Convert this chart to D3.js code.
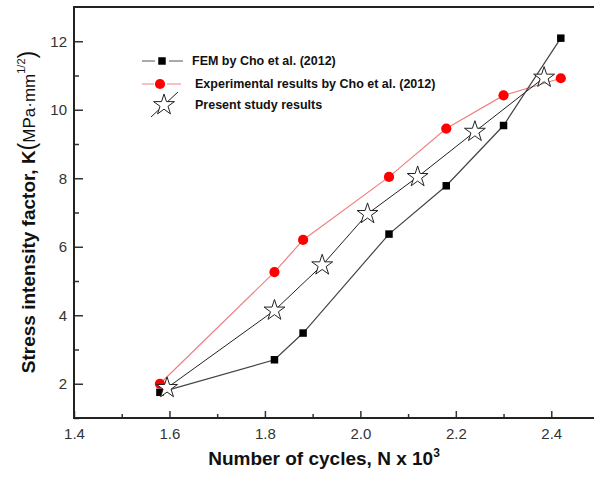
<!DOCTYPE html>
<meta charset="utf-8">
<style>
  body { margin: 0; background: white; }
  .tickText text { font: 15px Arial, "Liberation Sans", sans-serif; fill: #333; }
  .tickText line { stroke: #333; stroke-width: 1.5px; }
  .tickText path { display: none; }
  .legendText { font: bold 12.5px Arial, "Liberation Sans", sans-serif; fill: #111; }
  .axisLabel { font: bold 19px Arial, "Liberation Sans", sans-serif; fill: #111; }
</style>
<body>
<script src="https://d3js.org/d3.v7.min.js"></script>
<script>

// data (N in thousands of cycles, K in MPa.mm^1/2)
var femN = [1.58, 1.82, 1.88, 2.06, 2.18, 2.30, 2.42];
var femK = [1.75, 2.70, 3.48, 6.37, 7.78, 9.54, 12.09];

var expN = [1.58, 1.82, 1.88, 2.06, 2.18, 2.30, 2.42];
var expK = [2.00, 5.26, 6.20, 8.04, 9.45, 10.42, 10.92];

var presentN = [1.595, 1.82, 1.92, 2.015, 2.12, 2.24, 2.385];
var presentK = [1.88, 4.14, 5.46, 6.96, 8.04, 9.36, 10.94];

var xMajor = [1.4, 1.6, 1.8, 2.0, 2.2, 2.4];
var xMinor = [1.5, 1.7, 1.9, 2.1, 2.3];
var yMajor = [2, 4, 6, 8, 10, 12];
var yMinor = [1, 3, 5, 7, 9, 11];

var legendLabels = ["FEM by Cho et al. (2012)",
                    "Experimental results by Cho et al. (2012)",
                    "Present study results"];

var width = 594, height = 477;

var svg = d3.select("body").append("svg")
    .attr("width", width)
    .attr("height", height);

// scales (right side of the frame runs off the picture)
var x = d3.scaleLinear().domain([1.4, 2.5]).range([74, 599]);
var y = d3.scaleLinear().domain([1, 13]).range([418, 7]);

// minor ticks first, then major ticks with labels
svg.append("g").attr("class", "tickText")
    .attr("transform", "translate(0," + y(1) + ")")
    .call(d3.axisBottom(x).tickValues(xMinor).tickSize(-4).tickFormat(""));
svg.append("g").attr("class", "tickText")
    .attr("transform", "translate(0," + y(1) + ")")
    .call(d3.axisBottom(x).tickValues(xMajor).tickSize(-7).tickPadding(10)
      .tickFormat(d3.format(".1f")));

svg.append("g").attr("class", "tickText")
    .attr("transform", "translate(" + x(1.4) + ",0)")
    .call(d3.axisLeft(y).tickValues(yMinor).tickSize(-5).tickFormat(""));
svg.append("g").attr("class", "tickText")
    .attr("transform", "translate(" + x(1.4) + ",0)")
    .call(d3.axisLeft(y).tickValues(yMajor).tickSize(-9).tickPadding(7));

// frame
svg.append("rect")
    .attr("x", x(1.4)).attr("y", y(13))
    .attr("width", x(2.5) - x(1.4)).attr("height", y(1) - y(13))
    .attr("fill", "none").attr("stroke", "#222").attr("stroke-width", 2);

function pts(xs, ys) { return xs.map(function(d, i) { return [d, ys[i]]; }); }

var line = d3.line()
    .x(function(d) { return x(d[0]); })
    .y(function(d) { return y(d[1]); });

var femData = pts(femN, femK);
var expData = pts(expN, expK);
var presentData = pts(presentN, presentK);

// lines
svg.append("path").datum(expData).attr("d", line)
    .attr("fill", "none").attr("stroke", "#f08080").attr("stroke-width", 1.2);
svg.append("path").datum(presentData).attr("d", line)
    .attr("fill", "none").attr("stroke", "#222").attr("stroke-width", 1);
svg.append("path").datum(femData).attr("d", line)
    .attr("fill", "none").attr("stroke", "#444").attr("stroke-width", 1.2);

var square = d3.symbol().type(d3.symbolSquare).size(56);
var circle = d3.symbol().type(d3.symbolCircle).size(82);
var star = d3.symbol().type(d3.symbolStar).size(135);

svg.selectAll(".fem").data(femData).enter().append("path")
    .attr("class", "fem").attr("d", square)
    .attr("transform", function(d) { return "translate(" + x(d[0]) + "," + y(d[1]) + ")"; })
    .attr("fill", "#000");

svg.selectAll(".exp").data(expData).enter().append("path")
    .attr("class", "exp").attr("d", circle)
    .attr("transform", function(d) { return "translate(" + x(d[0]) + "," + y(d[1]) + ")"; })
    .attr("fill", "#f00");

svg.selectAll(".present").data(presentData).enter().append("path")
    .attr("class", "present").attr("d", star)
    .attr("transform", function(d) { return "translate(" + x(d[0]) + "," + y(d[1]) + ")"; })
    .attr("fill", "white").attr("stroke", "#222").attr("stroke-width", 1);

// legend
var legend = svg.append("g");
var ly = [61, 84, 105];

// FEM row
legend.append("line").attr("x1", 142).attr("x2", 155).attr("y1", ly[0]).attr("y2", ly[0]).attr("stroke", "#555");
legend.append("line").attr("x1", 169).attr("x2", 183).attr("y1", ly[0]).attr("y2", ly[0]).attr("stroke", "#555");
legend.append("path").attr("d", square).attr("transform", "translate(162," + ly[0] + ")").attr("fill", "#000");

// experimental row
legend.append("line").attr("x1", 142).attr("x2", 154).attr("y1", ly[1]).attr("y2", ly[1]).attr("stroke", "#f08080");
legend.append("line").attr("x1", 167).attr("x2", 181).attr("y1", ly[1]).attr("y2", ly[1]).attr("stroke", "#f08080");
legend.append("path").attr("d", circle).attr("transform", "translate(160," + ly[1] + ")").attr("fill", "#f00");

// present row
legend.append("line").attr("x1", 151).attr("x2", 178).attr("y1", ly[2] + 12).attr("y2", ly[2] - 13).attr("stroke", "#222");
legend.append("path").attr("d", star).attr("transform", "translate(164," + ly[2] + ")")
    .attr("fill", "white").attr("stroke", "#222");

legend.selectAll("text").data(legendLabels).enter().append("text")
    .attr("class", "legendText")
    .attr("x", function(d, i) { return i == 0 ? 192 : 195; })
    .attr("y", function(d, i) { return ly[i] + 4; })
    .text(function(d) { return d; });

// axis titles
var xt = svg.append("text").attr("class", "axisLabel")
    .attr("x", 324).attr("y", 465).attr("text-anchor", "middle");
xt.append("tspan").text("Number of cycles, N x 10");
xt.append("tspan").attr("dy", -8).style("font-size", "12px").text("3");

var yt = svg.append("text").attr("class", "axisLabel")
    .attr("transform", "translate(35,212) rotate(-90)")
    .attr("text-anchor", "middle");
yt.append("tspan").text("Stress intensity factor, K");
yt.append("tspan").style("font-weight", "normal").style("font-size", "23px").text("(");
yt.append("tspan").style("font-weight", "normal").style("font-size", "17px").text("MPa\u00b7mm");
yt.append("tspan").attr("dy", -10).style("font-weight", "normal").style("font-size", "11px").text("1/2");
yt.append("tspan").attr("dy", 10).style("font-weight", "normal").style("font-size", "23px").text(")");

</script>
</body>
